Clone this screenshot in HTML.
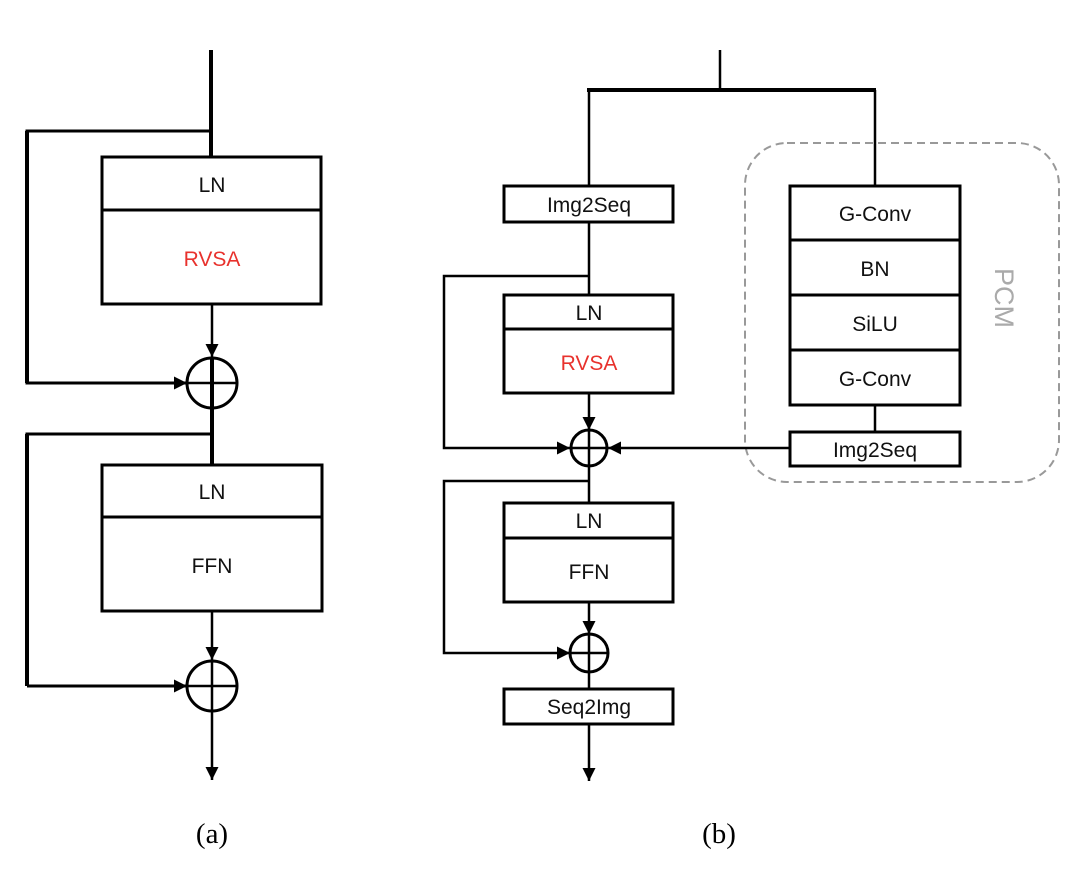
<!DOCTYPE html>
<html><head><meta charset="utf-8"><style>
html,body{margin:0;padding:0;background:#fff;}
svg{display:block;}
.s{font-family:"Liberation Sans",sans-serif;}
</style></head><body>
<svg width="1080" height="877" viewBox="0 0 1080 877" xmlns="http://www.w3.org/2000/svg">
<defs>
<marker id="ah" viewBox="0 0 10 10" refX="10" refY="5" markerWidth="13" markerHeight="13" markerUnits="userSpaceOnUse" orient="auto">
<path d="M0,0 L10,5 L0,10 z" fill="#000"/></marker>
</defs>
<g fill="none" stroke="#000">
<!-- (a) -->
<line x1="211" y1="50" x2="211" y2="157" stroke-width="4"/>
<polyline points="211,131 27,131 27,383 186,383" stroke-width="3"/>
<line x1="27" y1="131" x2="27" y2="383" stroke-width="4"/>
<line x1="178" y1="383" x2="187" y2="383" stroke-width="3" marker-end="url(#ah)"/>
<rect x="102" y="157" width="219" height="147" stroke-width="3"/>
<line x1="102" y1="210" x2="321" y2="210" stroke-width="3"/>
<line x1="212" y1="304" x2="212" y2="357" stroke-width="2.5" marker-end="url(#ah)"/>
<circle cx="212" cy="383" r="25" stroke-width="3"/>
<line x1="187" y1="383" x2="237" y2="383" stroke-width="2.5"/>
<line x1="212" y1="358" x2="212" y2="465" stroke-width="4"/>
<polyline points="211,434 27,434 27,686" stroke-width="3"/>
<line x1="27" y1="434" x2="27" y2="686" stroke-width="4"/>
<line x1="27" y1="686" x2="187" y2="686" stroke-width="3" marker-end="url(#ah)"/>
<rect x="102" y="465" width="220" height="146" stroke-width="3"/>
<line x1="102" y1="517" x2="322" y2="517" stroke-width="3"/>
<line x1="212" y1="611" x2="212" y2="660" stroke-width="2.5" marker-end="url(#ah)"/>
<circle cx="212" cy="686" r="25" stroke-width="3"/>
<line x1="187" y1="686" x2="237" y2="686" stroke-width="2.5"/>
<line x1="212" y1="661" x2="212" y2="780" stroke-width="2.5" marker-end="url(#ah)"/>
<!-- (b) -->
<line x1="720" y1="50" x2="720" y2="90" stroke-width="2.5"/>
<line x1="587" y1="90" x2="876" y2="90" stroke-width="4"/>
<line x1="589" y1="90" x2="589" y2="186" stroke-width="2.5"/>
<line x1="875" y1="90" x2="875" y2="186" stroke-width="2.5"/>
<rect x="745" y="143" width="314" height="339" rx="42" stroke="#999" stroke-width="2" stroke-dasharray="8,5"/>
<rect x="504" y="186" width="169" height="36" stroke-width="3"/>
<line x1="589" y1="222" x2="589" y2="295" stroke-width="2.5"/>
<polyline points="589,276 444,276 444,448 570,448" stroke-width="2.5" marker-end="url(#ah)"/>
<rect x="504" y="295" width="169" height="98" stroke-width="3"/>
<line x1="504" y1="329" x2="673" y2="329" stroke-width="3"/>
<line x1="589" y1="393" x2="589" y2="430" stroke-width="2.5" marker-end="url(#ah)"/>
<circle cx="589" cy="448" r="18" stroke-width="3"/>
<line x1="571" y1="448" x2="607" y2="448" stroke-width="2.5"/>
<line x1="790" y1="448" x2="608" y2="448" stroke-width="2.5" marker-end="url(#ah)"/>
<rect x="790" y="186" width="170" height="219" stroke-width="3"/>
<line x1="790" y1="240" x2="960" y2="240" stroke-width="3"/>
<line x1="790" y1="295" x2="960" y2="295" stroke-width="3"/>
<line x1="790" y1="350" x2="960" y2="350" stroke-width="3"/>
<line x1="875" y1="405" x2="875" y2="432" stroke-width="2.5"/>
<rect x="790" y="432" width="170" height="34" stroke-width="3"/>
<line x1="589" y1="430" x2="589" y2="503" stroke-width="2.5"/>
<polyline points="589,481 444,481 444,653 570,653" stroke-width="2.5" marker-end="url(#ah)"/>
<rect x="504" y="503" width="169" height="99" stroke-width="3"/>
<line x1="504" y1="538" x2="673" y2="538" stroke-width="3"/>
<line x1="589" y1="602" x2="589" y2="634" stroke-width="2.5" marker-end="url(#ah)"/>
<circle cx="589" cy="653" r="19" stroke-width="3"/>
<line x1="570" y1="653" x2="608" y2="653" stroke-width="2.5"/>
<line x1="589" y1="634" x2="589" y2="689" stroke-width="2.5"/>
<rect x="504" y="689" width="169" height="35" stroke-width="3"/>
<line x1="589" y1="724" x2="589" y2="781" stroke-width="2.5" marker-end="url(#ah)"/>
</g>
<g class="s" font-size="21" text-anchor="middle" fill="#111">
<text x="212" y="192">LN</text>
<text x="212" y="266" fill="#e8322d">RVSA</text>
<text x="212" y="499">LN</text>
<text x="212" y="573">FFN</text>
<text x="589" y="212">Img2Seq</text>
<text x="589" y="320">LN</text>
<text x="589" y="370" fill="#e8322d">RVSA</text>
<text x="589" y="528">LN</text>
<text x="589" y="579">FFN</text>
<text x="589" y="714">Seq2Img</text>
<text x="875" y="221">G-Conv</text>
<text x="875" y="276">BN</text>
<text x="875" y="331">SiLU</text>
<text x="875" y="386">G-Conv</text>
<text x="875" y="457">Img2Seq</text>
<text x="0" y="0" font-size="27" fill="#aaa" transform="translate(995,298) rotate(90)">PCM</text>
</g>
<text x="212" y="843" font-size="29" text-anchor="middle" style="font-family:'Liberation Serif',serif">(a)</text>
<text x="719" y="843" font-size="29" text-anchor="middle" style="font-family:'Liberation Serif',serif">(b)</text>
</svg>
</body></html>
